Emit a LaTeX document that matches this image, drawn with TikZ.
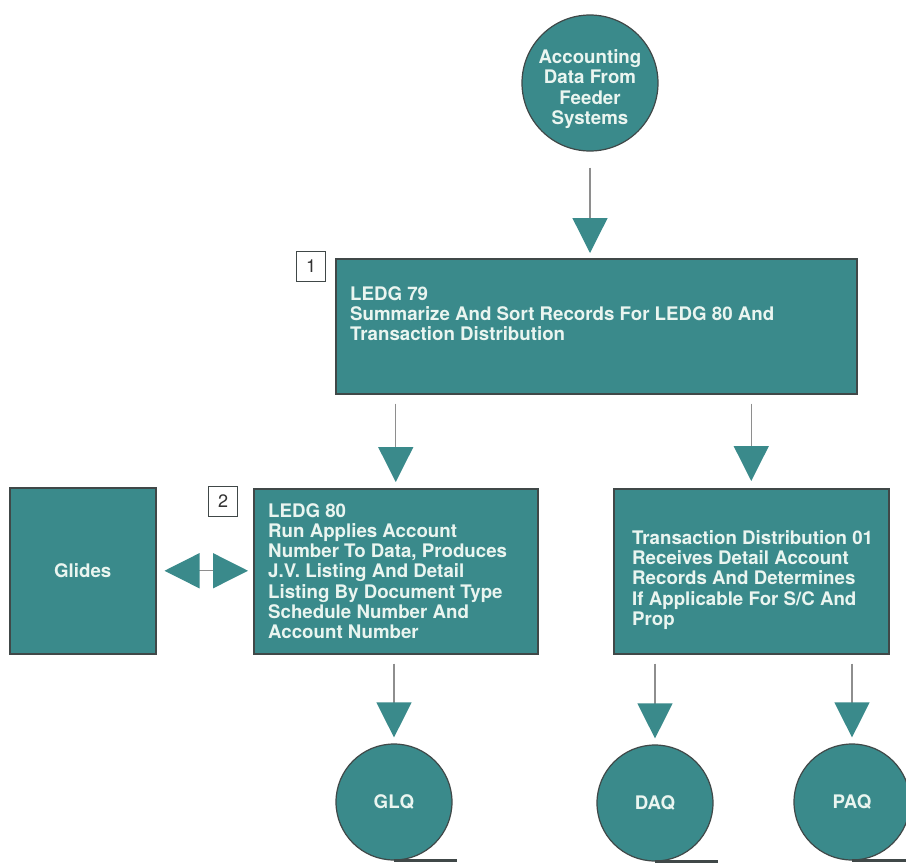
\documentclass[tikz,border=0pt]{standalone}
\usepackage{fontspec}
\setmainfont{TeX Gyre Heros}
\usetikzlibrary{arrows.meta}

\definecolor{tealfill}{HTML}{3A8A8B}
\definecolor{edgegray}{HTML}{404848}
\definecolor{paletext}{HTML}{EAF5F0}
\definecolor{linegray}{HTML}{8E8E8E}

\tikzset{
  bigtri/.tip={Triangle[width=35pt,length=35pt,color=tealfill]},
}

\begin{document}
\begin{tikzpicture}[x=1pt,y=-1pt,
  every node/.style={font=\fontsize{18.7}{20.3}\selectfont\bfseries},
  procbox/.style={draw=edgegray, line width=1.5pt, fill=tealfill, anchor=north west,
                  inner sep=0pt, text=paletext},
  boxtext/.style={text=paletext, align=left, anchor=north west, inner sep=0pt},
  tape/.style={circle, draw=edgegray, line width=1.2pt, fill=tealfill, inner sep=0pt},
  tapetext/.style={text=paletext, align=center, inner sep=0pt},
  tapeline/.style={draw=edgegray, line width=3.5pt},
  stepnum/.style={draw=edgegray, fill=white, line width=1.2pt, anchor=north west,
                  minimum width=29pt, minimum height=30pt, inner sep=0pt, text=black!80,
                  font=\fontsize{18}{20}\selectfont},
  flow/.style={draw=linegray, line width=1.3pt, -bigtri},
]
\useasboundingbox (0,0) rectangle (906,863);
\fill[white] (0,0) rectangle (906,863);

% feeder data source
\node[tape, minimum size=136pt] (feed) at (590,83) {};
\node[tapetext] (feedtxt) at (590,89) {Accounting\\Data From\\Feeder\\Systems};

% processing steps
\node[procbox, minimum width=521pt, minimum height=135pt] (ledg79) at (335,258) {};
\node[boxtext] (ledg79txt) at ([shift={(15,28)}]ledg79.north west)
  {LEDG 79\\Summarize And Sort Records For LEDG 80 And\\Transaction Distribution};
\node[stepnum] (n1) at (296,251) {1};

\node[procbox, minimum width=284pt, minimum height=165pt] (ledg80) at (253,488) {};
\node[boxtext] (ledg80txt) at ([shift={(15,15)}]ledg80.north west)
  {LEDG 80\\Run Applies Account\\Number To Data, Produces\\J.V. Listing And Detail\\%
   Listing By Document Type\\Schedule Number And\\Account Number};
\node[stepnum] (n2) at (208,486) {2};

\node[procbox, minimum width=275pt, minimum height=165pt] (tdist) at (613,488) {};
\node[boxtext] (tdisttxt) at ([shift={(19,42)}]tdist.north west)
  {Transaction Distribution 01\\Receives Detail Account\\Records And Determines\\%
   If Applicable For S/C And\\Prop};

\node[procbox, minimum width=146pt, minimum height=166pt] (glides) at (9,487) {Glides};

% output tapes
\node[tape, minimum size=116pt] (glq) at (394,802) {};
\node[tapetext] at (glq.center) {GLQ};
\node[tape, minimum size=116pt] (daq) at (655,803) {};
\node[tapetext] at (daq.center) {DAQ};
\node[tape, minimum size=116pt] (paq) at (852,802) {};
\node[tapetext] at (paq.center) {PAQ};

\draw[tapeline] (glq.south) -- ++(63,0);
\draw[tapeline] (daq.south) -- ++(63,0);
\draw[tapeline] (paq.south) -- ++(63,0);

% flow connectors
\draw[flow, shorten <=16pt, shorten >=5pt] (feed.south) -- (feed.south |- ledg79.north);
\draw[flow, shorten <=9pt, shorten >=6pt] (ledg79.south -| ledg80.north) -- (ledg80.north);
\draw[flow, shorten <=9pt, shorten >=7pt] (ledg79.south -| tdist.north) -- (tdist.north);
\draw[flow, shorten <=9pt, shorten >=6pt] (ledg80.south -| glq.north) -- (glq.north);
\draw[flow, shorten <=9pt, shorten >=6pt] (tdist.south -| daq.north) -- (daq.north);
\draw[flow, shorten <=9pt, shorten >=6pt] (tdist.south -| paq.north) -- (paq.north);
\draw[flow, bigtri-bigtri, shorten <=8pt, shorten >=5pt]
  (glides.east) -- (glides.east -| ledg80.west);
\end{tikzpicture}
\end{document}
